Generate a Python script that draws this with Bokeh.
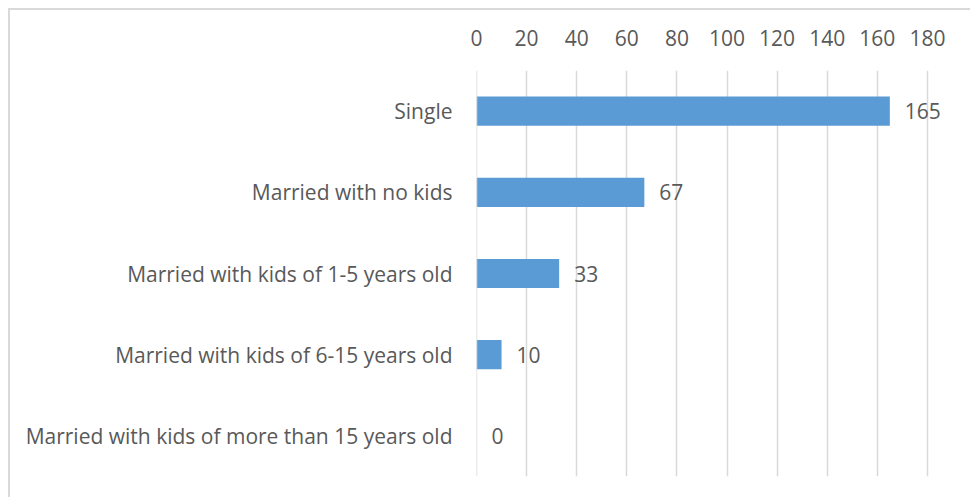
from bokeh.plotting import figure
from bokeh.models import ColumnDataSource, Range1d, FixedTicker, Span
from bokeh.core.properties import value
from bokeh.embed import file_html
from bokeh.resources import INLINE

categories = [
    "Single",
    "Married with no kids",
    "Married with kids of 1-5 years old",
    "Married with kids of 6-15 years old",
    "Married with kids of more than 15 years old",
]
counts = [165, 67, 33, 10, 0]
x_ticks = [0, 20, 40, 60, 80, 100, 120, 140, 160, 180]

FONT = "Open Sans"
TEXT_COLOR = "#595959"
SIZE = "21px"
GRID = "#d9d9d9"

factors = list(reversed(categories))
src = ColumnDataSource(dict(cat=categories, val=counts, lab=[str(v) for v in counts]))

p = figure(
    width=962, height=489,
    y_range=factors, x_range=Range1d(0, 198),
    x_axis_location="above",
    output_backend="svg", toolbar_location=None,
    min_border_left=466, min_border_right=0,
    min_border_top=60, min_border_bottom=23,
    outline_line_color=None,
)
p.styles = {
    "margin-left": "8px", "margin-top": "8px",
    "border-left": "2px solid #d9d9d9", "border-top": "2px solid #d9d9d9",
}

p.add_layout(Span(location=0, dimension="height", line_color=GRID, line_width=1.5))

p.hbar(y="cat", right="val", left=0, height=0.36, source=src,
       fill_color="#5b9bd5", line_color=None)

p.text(x="val", y="cat", text="lab", source=src, x_offset=15,
       text_baseline="middle", text_align="left",
       text_font=value(FONT), text_font_size=SIZE, text_color=TEXT_COLOR)

xa = p.xaxis[0]
xa.ticker = FixedTicker(ticks=x_ticks)
xa.axis_line_color = None
xa.major_tick_line_color = None
xa.minor_tick_line_color = None
xa.major_label_standoff = 19
xa.major_label_text_font = FONT
xa.major_label_text_font_size = SIZE
xa.major_label_text_color = TEXT_COLOR

ya = p.yaxis[0]
ya.axis_line_color = None
ya.major_tick_line_color = None
ya.major_label_standoff = 18
ya.major_label_text_font = FONT
ya.major_label_text_font_size = SIZE
ya.major_label_text_color = TEXT_COLOR

p.ygrid.grid_line_color = None
p.xgrid.grid_line_color = GRID
p.xgrid.grid_line_width = 1.5

open("out.html", "w").write(file_html(p, INLINE))
